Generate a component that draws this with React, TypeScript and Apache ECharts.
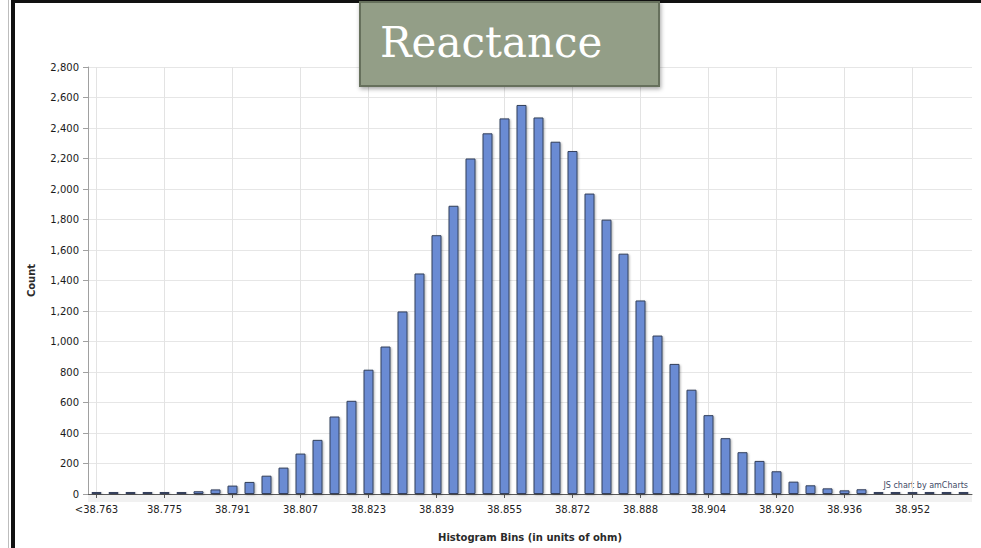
import React, { useEffect, useRef } from "react";
import * as echarts from "echarts";

const categories = [
  "<38.763", "38.763", "38.767", "38.771", "38.775", "38.779", "38.783", "38.787",
  "38.791", "38.795", "38.799", "38.803", "38.807", "38.811", "38.815", "38.819",
  "38.823", "38.827", "38.831", "38.835", "38.839", "38.843", "38.847", "38.851",
  "38.855", "38.859", "38.863", "38.867", "38.872", "38.876", "38.880", "38.884",
  "38.888", "38.892", "38.896", "38.900", "38.904", "38.908", "38.912", "38.916",
  "38.920", "38.924", "38.928", "38.932", "38.936", "38.940", "38.944", "38.948",
  "38.952", "38.956", "38.960", "38.964",
];

const counts = [
  2, 1, 3, 5, 6, 9, 18, 30, 55, 79, 120, 173, 265, 355, 508, 611,
  815, 967, 1197, 1446, 1697, 1890, 2200, 2365, 2463, 2551, 2469, 2310, 2249, 1970, 1799, 1576,
  1269, 1039, 853, 684, 517, 366, 274, 217, 149, 81, 57, 37, 24, 31, 8, 5,
  3, 2, 1, 1,
];

const titleText = "Reactance";
const xAxisName = "Histogram Bins (in units of ohm)";
const yAxisName = "Count";
const creditText = "JS chart by amCharts";

export default function App() {
  const ref = useRef<HTMLDivElement>(null);

  useEffect(() => {
    if (!ref.current) return;
    const chart = echarts.init(ref.current, null, { renderer: "svg" });
    const font = "DejaVu Sans, Verdana, sans-serif";
    chart.setOption({
      animation: false,
      backgroundColor: "#ffffff",
      grid: { left: 88, right: 9, top: 67, bottom: 54, containLabel: false },
      xAxis: {
        type: "category",
        data: categories,
        boundaryGap: true,
        name: xAxisName,
        nameLocation: "middle",
        nameGap: 38,
        nameTextStyle: { fontFamily: font, fontSize: 10, fontWeight: "bold", color: "#2a2a2a" },
        axisLine: { show: true, lineStyle: { color: "#5a5a5a", width: 1 } },
        axisTick: { show: true, interval: 3, alignWithLabel: true, length: 4, lineStyle: { color: "#5a5a5a" } },
        axisLabel: { interval: 3, fontFamily: font, fontSize: 10, color: "#222", margin: 10 },
        splitLine: { show: true, interval: 3, alignWithLabel: true, lineStyle: { color: "#e3e3e3", width: 1 } },
      },
      yAxis: {
        type: "value",
        min: 0,
        max: 2800,
        interval: 200,
        name: yAxisName,
        nameLocation: "middle",
        nameGap: 52,
        nameTextStyle: { fontFamily: font, fontSize: 10, fontWeight: "bold", color: "#2a2a2a" },
        axisLine: { show: true, lineStyle: { color: "#a0a0a0", width: 1 } },
        axisTick: { show: true, length: 5, lineStyle: { color: "#a0a0a0" } },
        axisLabel: {
          fontFamily: font,
          fontSize: 10,
          color: "#1a1a1a",
          margin: 9,
          formatter: (v: number) => v.toLocaleString("en-US"),
        },
        splitLine: { show: true, lineStyle: { color: "#e6e6e6", width: 1 } },
      },
      series: [
        {
          type: "bar",
          data: counts,
          barWidth: 10,
          barMinHeight: 2,
          itemStyle: {
            color: "#6a8bd3",
            borderColor: "#34415c",
            borderWidth: 1,
            shadowBlur: 2,
            shadowColor: "rgba(0,0,0,0.3)",
            shadowOffsetX: 1,
            shadowOffsetY: 1,
          },
        },
      ],
      graphic: [
        { type: "rect", shape: { x: 88, y: 495, width: 884, height: 7 }, style: { fill: "#f1f1f1" }, z: -1 },
        { type: "line", shape: { x1: 8.5, y1: 0, x2: 8.5, y2: 548 }, style: { stroke: "#bdbdbd", lineWidth: 1 } },
        { type: "rect", shape: { x: 11, y: 0, width: 4, height: 548 }, style: { fill: "#111" } },
        { type: "rect", shape: { x: 11, y: 0, width: 970, height: 3 }, style: { fill: "#111" } },
        {
          type: "text",
          right: 13,
          top: 481,
          style: { text: creditText, fontFamily: font, fontSize: 8, fill: "#3e4a66" },
        },
        {
          type: "rect",
          z: 100,
          shape: { x: 360, y: 2, width: 299, height: 84 },
          style: {
            fill: "#939e87",
            stroke: "#66705c",
            lineWidth: 2,
            shadowBlur: 4,
            shadowColor: "rgba(0,0,0,0.35)",
            shadowOffsetX: 1,
            shadowOffsetY: 2,
          },
        },
        {
          type: "text",
          z: 101,
          x: 380,
          y: 42,
          style: {
            text: titleText,
            fontFamily: "DejaVu Serif, serif",
            fontSize: 42,
            fill: "#ffffff",
            verticalAlign: "middle",
          },
        },
      ],
    });
    return () => chart.dispose();
  }, []);

  return (
    <div
      ref={ref}
      style={{ position: "fixed", left: 0, top: 0, width: 981, height: 548 }}
    />
  );
}
